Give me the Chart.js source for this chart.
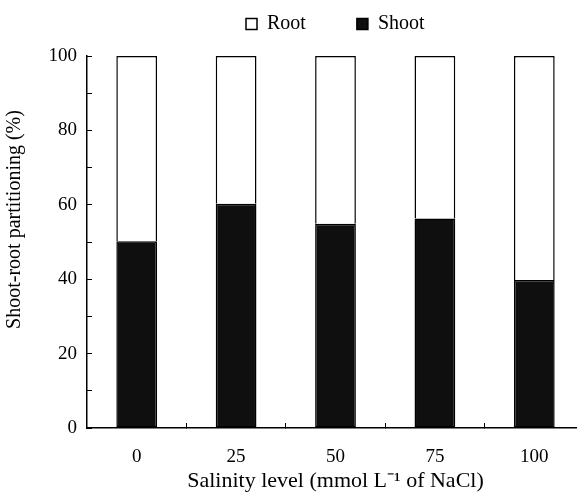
<!DOCTYPE html>
<html>
<head>
<meta charset="utf-8">
<script src="https://cdn.jsdelivr.net/npm/chart.js@4.4.1/dist/chart.umd.min.js"></script>
<style>
  html, body { margin: 0; padding: 0; background: #fff; overflow: hidden; }
  #wrap { width: 600px; height: 496px; }
</style>
</head>
<body>
<div id="wrap"><canvas id="chart" width="600" height="496"></canvas></div>
<script>
// salinity levels (mmol/L NaCl)
const categories = ['0', '25', '50', '75', '100'];
// partitioning in %
const shootValues = [50.2, 60.3, 54.9, 56.3, 39.8];
const rootValues = [49.8, 39.7, 45.1, 43.7, 60.2];
const yTicks = [0, 20, 40, 60, 80, 100];

Chart.defaults.font.family = '"Liberation Serif", "Times New Roman", serif';
Chart.defaults.color = '#000';

// place the legend where the original has it
const legendSpot = {
  id: 'legendSpot',
  beforeDraw(chart) {
    const lg = chart.legend;
    if (!lg) return;
    const pad = lg.options.labels.padding;
    lg.left = 246 - pad;
    lg.top = 24 - pad - 10;
  }
};

new Chart(document.getElementById('chart'), {
  type: 'bar',
  data: {
    labels: categories,
    datasets: [
      {
        label: 'Shoot',
        data: shootValues,
        backgroundColor: '#0f0f0f',
        borderColor: '#000',
        borderWidth: 1.5,
        borderSkipped: false
      },
      {
        label: 'Root',
        data: rootValues,
        backgroundColor: '#fff',
        borderColor: '#000',
        borderWidth: 1.5,
        borderSkipped: 'start'
      }
    ]
  },
  options: {
    responsive: false,
    animation: false,
    layout: { padding: { top: 16, right: 16, left: 0, bottom: 0 } },
    datasets: { bar: { barPercentage: 0.41, categoryPercentage: 1 } },
    plugins: {
      tooltip: { enabled: false },
      legend: {
        position: 'top',
        align: 'start',
        reverse: true,
        maxHeight: 40,
        labels: {
          boxWidth: 11,
          boxHeight: 11,
          padding: 51,
          font: { size: 20 }
        }
      }
    },
    scales: {
      x: {
        stacked: true,
        grid: { drawOnChartArea: false, tickLength: -5, color: '#000', lineWidth: 1 },
        border: { color: '#000', width: 1.5 },
        ticks: { padding: 23, font: { size: 19 } },
        title: { display: true, text: 'Salinity level (mmol L\u207B\u00B9 of NaCl)', font: { size: 22 }, padding: { bottom: 2 } },
        afterFit(scale) { scale.height = 68; }
      },
      y: {
        stacked: true,
        min: 0,
        max: 100,
        grid: { drawOnChartArea: false, tickLength: -5, color: '#000', lineWidth: 1 },
        border: { color: '#000', width: 1.5 },
        ticks: {
          stepSize: 10,
          autoSkip: false,
          padding: 15,
          font: { size: 19 },
          callback: v => yTicks.includes(v) ? v : ''
        },
        // leading spaces lift the title like in the original
        title: { display: true, text: '\u00A0'.repeat(9) + 'Shoot-root partitioning (%)', font: { size: 20 }, padding: { top: 3 } },
        afterFit(scale) { scale.width = 87; }
      }
    }
  },
  plugins: [legendSpot]
});
</script>
</body>
</html>
